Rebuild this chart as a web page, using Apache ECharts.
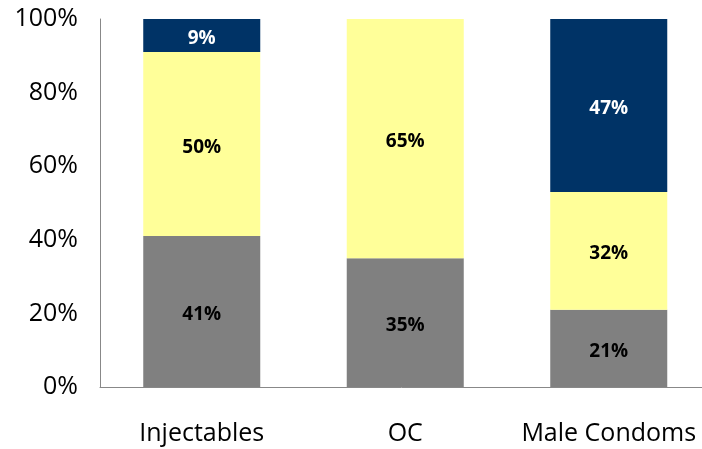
<!DOCTYPE html>
<html><head><meta charset="utf-8">
<script src="https://cdn.jsdelivr.net/npm/echarts@6/dist/echarts.min.js"></script>
<style>html,body{margin:0;padding:0;background:#fff}#c{width:702px;height:449px}</style>
</head><body><div id="c"></div>
<script>
const categories = ['Injectables', 'OC', 'Male Condoms'];
const grayValues = [41, 35, 21];
const yellowValues = [50, 65, 32];
const navyValues = [9, 0, 47];
const yTicks = [0, 20, 40, 60, 80, 100];

const chart = echarts.init(document.getElementById('c'));
const font = 'Open Sans';
function lbl(color) {
  return {
    show: true, position: 'inside', color: color, fontWeight: 'bold',
    fontSize: 19, fontFamily: font, offset: [0, 3],
    formatter: p => p.value > 0 ? p.value + '%' : ''
  };
}
chart.setOption({
  animation: false,
  grid: { left: 100, width: 610.5, top: 19, bottom: 62, outerBoundsMode: 'none', containLabel: false },
  xAxis: {
    type: 'category', data: categories,
    axisLine: { lineStyle: { color: '#888', width: 1 } },
    axisTick: { show: false },
    axisLabel: { fontSize: 25, color: '#000', fontFamily: font, margin: 34, interval: 0, hideOverlap: false }
  },
  yAxis: {
    type: 'value', min: 0, max: 100, interval: 20,
    axisLine: { show: true, lineStyle: { color: '#888', width: 1 } },
    axisTick: { show: false },
    splitLine: { show: false },
    axisLabel: { fontSize: 25, color: '#000', fontFamily: font, margin: 22,
      formatter: v => yTicks.includes(v) ? v + '%' : '' }
  },
  series: [
    { type: 'bar', stack: 's', data: grayValues, barWidth: '57.5%',
      itemStyle: { color: '#808080' }, label: lbl('#000') },
    { type: 'bar', stack: 's', data: yellowValues,
      itemStyle: { color: '#FFFF99' }, label: lbl('#000') },
    { type: 'bar', stack: 's', data: navyValues,
      itemStyle: { color: '#003366' }, label: lbl('#fff') }
  ]
});
</script></body></html>
